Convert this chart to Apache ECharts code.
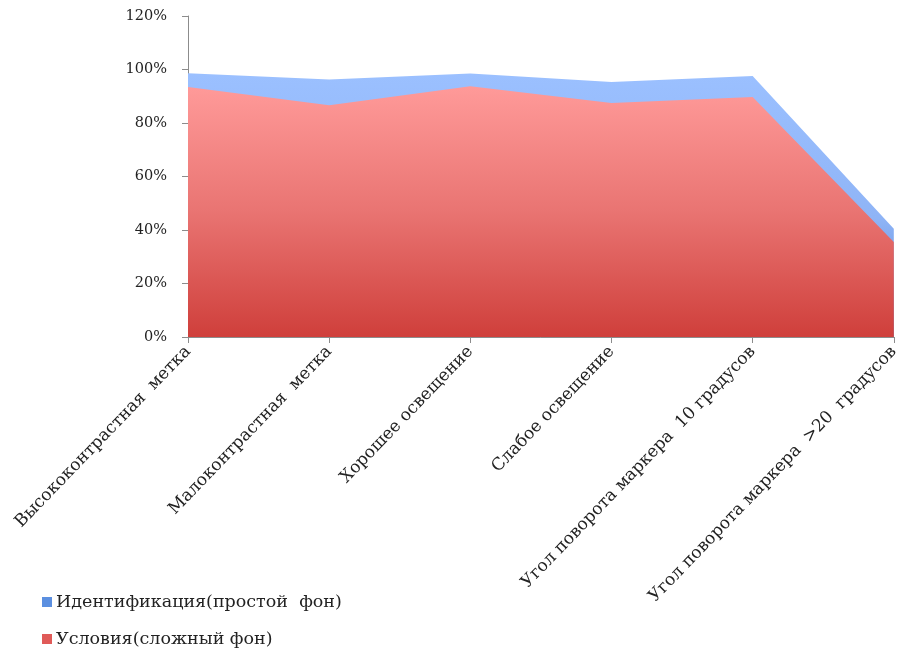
<!DOCTYPE html>
<html><head><meta charset="utf-8">
<script src="https://cdn.jsdelivr.net/npm/echarts@6/dist/echarts.min.js"></script>
<style>html,body{margin:0;padding:0;background:#fff}#c{width:902px;height:649px}</style>
</head><body><div id="c"></div>
<script>
const categories = ['Высококонтрастная  метка','Малоконтрастная  метка','Хорошее освещение','Слабое освещение','Угол поворота маркера  10 градусов','Угол поворота маркера  >20  градусов'];
const identification = [98.6, 96.3, 98.5, 95.3, 97.6, 40.5];
const conditions = [93.5, 86.6, 93.7, 87.5, 89.7, 35.5];
const yTicks = [0, 20, 40, 60, 80, 100, 120];
const seriesNames = ['Идентификация(простой  фон)','Условия(сложный фон)'];

const font = '"DejaVu Serif", serif';
const legendBase = {
  orient: 'horizontal', left: 37, itemGap: 0,
  itemWidth: 10, itemHeight: 10, icon: 'rect',
  textStyle: {fontFamily: font, fontSize: 17.5, color: '#222', padding: [0,0,0,-1]}
};
const chart = echarts.init(document.getElementById('c'));
chart.setOption({
  animation: false,
  grid: {left: 188, right: 5, top: 16, bottom: 312, containLabel: false},
  legend: [
    Object.assign({}, legendBase, {top: 588, data: [{name: seriesNames[0], itemStyle: {color: '#5b8fe0'}}]}),
    Object.assign({}, legendBase, {top: 625, data: [{name: seriesNames[1], itemStyle: {color: '#e05a58'}}]})
  ],
  xAxis: {
    type: 'category', boundaryGap: false, data: categories,
    axisLine: {lineStyle: {color: '#8c8c8c'}},
    axisTick: {show: true, length: 6, lineStyle: {color: '#8c8c8c'}},
    axisLabel: {rotate: 46, margin: 12, interval: 0, fontFamily: font, fontSize: 17, color: '#222'}
  },
  yAxis: {
    type: 'value', min: yTicks[0], max: yTicks[yTicks.length-1], interval: 20,
    axisLine: {show: true, lineStyle: {color: '#8c8c8c'}},
    axisTick: {show: true, length: 6, lineStyle: {color: '#8c8c8c'}},
    splitLine: {show: false},
    axisLabel: {margin: 21, fontFamily: font, fontSize: 14.5, color: '#222', formatter: v => v + '%'}
  },
  series: [
    {
      name: seriesNames[0], type: 'line', data: identification,
      showSymbol: false, symbol: 'none', lineStyle: {width: 0}, itemStyle: {color: '#5b8fe0'},
      areaStyle: {opacity: 1, color: new echarts.graphic.LinearGradient(0,0,0,1,[
        {offset: 0, color: '#9bc0ff'}, {offset: 0.55, color: '#8fb4f6'}, {offset: 1, color: '#4f80d4'}])},
      z: 1
    },
    {
      name: seriesNames[1], type: 'line', data: conditions,
      showSymbol: false, symbol: 'none', lineStyle: {width: 0}, itemStyle: {color: '#e05a58'},
      areaStyle: {opacity: 1, color: new echarts.graphic.LinearGradient(0,0,0,1,[
        {offset: 0, color: '#ff9a99'}, {offset: 0.5, color: '#e97472'}, {offset: 1, color: '#cf3f3b'}])},
      z: 2
    }
  ]
});
</script></body></html>
